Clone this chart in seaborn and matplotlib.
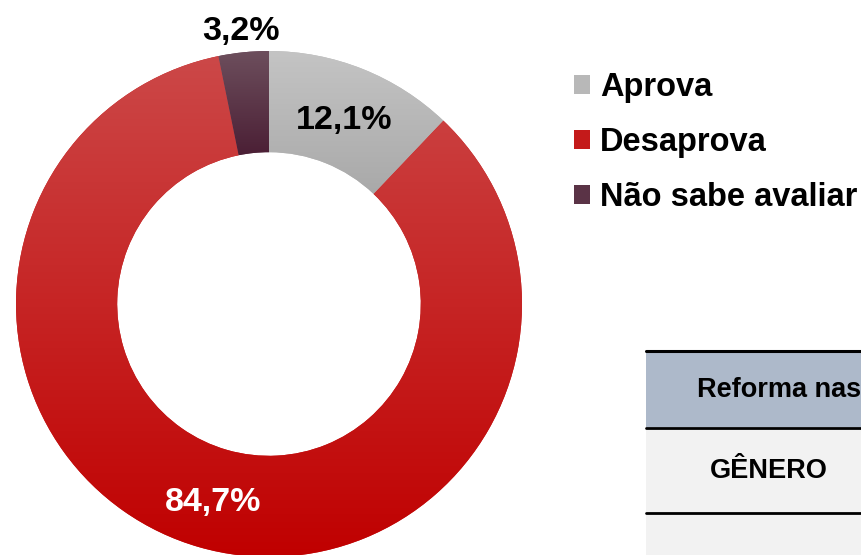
import numpy as np
import matplotlib
matplotlib.use('Agg')
import matplotlib.pyplot as plt
import seaborn as sns
from matplotlib.colors import LinearSegmentedColormap
from matplotlib.patches import Patch, Rectangle

# data
categories = ['Aprova', 'Desaprova', 'Não sabe avaliar']
values = [12.1, 84.7, 3.2]
# gradient colours (top, bottom) per slice
grad_colors = [('#c4c4c4', '#a9a9a9'), ('#cc4848', '#c00000'), ('#6d4f5d', '#4b1f35')]
legend_colors = ['#b8b8b8', '#c41a1a', '#5a3346']
label_colors = ['black', 'white', 'black']
table_header = 'Reforma nas'
table_row = 'GÊNERO'

sns.set_style('white')
plt.rcParams['font.family'] = ['Liberation Sans', 'DejaVu Sans']
plt.rcParams['font.weight'] = 'bold'
plt.rcParams['text.color'] = 'black'

fig = plt.figure(figsize=(8.62, 5.55), dpi=100)

# donut axes
ax = fig.add_axes([16 / 862, (555 - 304 - 253) / 555, 506 / 862, 506 / 555])
wedges, _ = ax.pie(values, startangle=90, counterclock=False, colors=legend_colors,
                   wedgeprops=dict(width=0.4, linewidth=0))
ax.set_xlim(-1, 1)
ax.set_ylim(-1, 1)
ax.set_aspect('equal')
ax.axis('off')

# vertical gradient fill in each slice
for w, (top, bottom) in zip(wedges, grad_colors):
    cmap = LinearSegmentedColormap.from_list('g', [bottom, top])
    bb = w.get_path().get_extents(w.get_transform() - ax.transData)
    grad = np.linspace(0, 1, 256).reshape(-1, 1)
    im = ax.imshow(grad, cmap=cmap, origin='lower', aspect='auto',
                   extent=[-1, 1, bb.y0, bb.y1], zorder=2)
    im.set_clip_path(w)

# percentage labels
total = sum(values)
start = 90.0
for v, c in zip(values, label_colors):
    mid = start - v / total * 360 / 2
    start -= v / total * 360
    r = 0.8 if v > 5 else 1.1
    txt = f'{v:.1f}%'.replace('.', ',')
    ax.text(r * np.cos(np.radians(mid)), r * np.sin(np.radians(mid)) - 0.016, txt,
            ha='center', va='center', fontsize=24.5, fontweight='bold', color=c, zorder=5)
ax.set_xlim(-1, 1)
ax.set_ylim(-1, 1)

# legend
handles = [Patch(facecolor=c, edgecolor='none') for c in legend_colors]
fig.legend(handles, categories, loc='upper left', bbox_to_anchor=(574 / 862, 1 - 72 / 555),
           frameon=False, prop=dict(weight='bold', size=23.5), borderpad=0, borderaxespad=0,
           handlelength=0.5, handleheight=0.5, handletextpad=0.3, labelspacing=0.74)

# partial table at bottom right
tax = fig.add_axes([0, 0, 1, 1], zorder=-1)
tax.set_xlim(0, 862)
tax.set_ylim(555, 0)
tax.axis('off')
tax.add_patch(Rectangle((646, 352), 220, 75, facecolor='#adb9ca', edgecolor='none'))
tax.add_patch(Rectangle((646, 427), 220, 130, facecolor='#f2f2f2', edgecolor='none'))
for y, lw in [(351, 2.2), (428, 2.0), (513, 2.0)]:
    tax.plot([646, 862], [y, y], color='black', lw=lw)
tax.text(697, 390, table_header, ha='left', va='center', fontsize=19.5, fontweight='bold')
tax.text(769, 471, table_row, ha='center', va='center', fontsize=19.5, fontweight='bold')

fig.savefig('out.png', dpi=100)
